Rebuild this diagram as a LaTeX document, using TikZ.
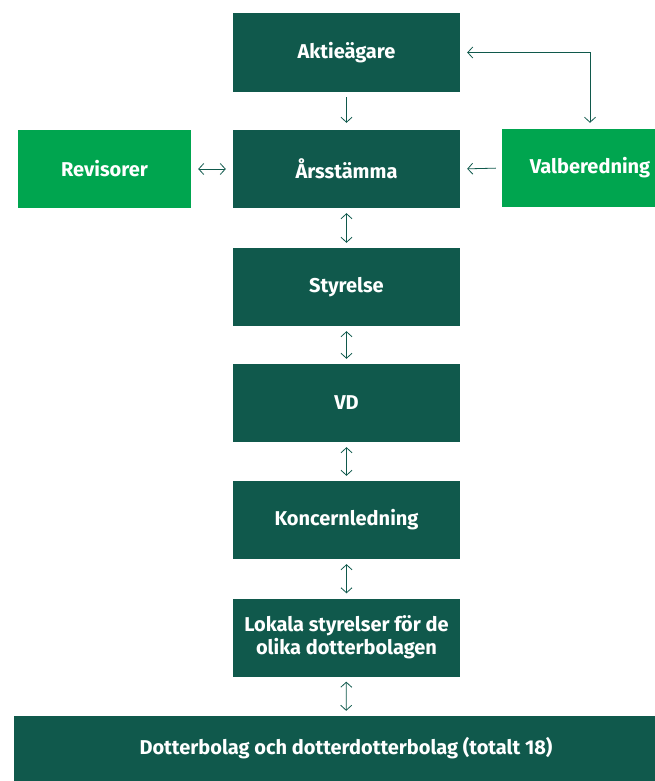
\documentclass[tikz,border=0pt]{standalone}
\usepackage{fontspec}
\setmainfont{Fira Sans}
\usetikzlibrary{arrows.meta}
\definecolor{dgreen}{HTML}{10594C}
\definecolor{lgreen}{HTML}{00A54F}
\tikzset{
  box/.style={fill=dgreen, text=white, font=\bfseries\fontsize{20}{23}\selectfont, align=center, inner sep=0pt},
  mainbox/.style={box, minimum width=227pt, minimum height=78pt},
  sidebox/.style={box, fill=lgreen, minimum height=78pt},
  conn/.style={draw=dgreen, line width=0.8pt, arrows={-Straight Barb[length=5pt,width=11pt]}},
  dconn/.style={draw=dgreen, line width=0.8pt, arrows={Straight Barb[length=5pt,width=11pt]-Straight Barb[length=5pt,width=11pt]}}
}
\begin{document}
\begin{tikzpicture}[x=1pt,y=-1pt]
\useasboundingbox (0,0) rectangle (655,781);
\node[mainbox, minimum height=79pt] (akt) at (346.5,52.5) {Aktieägare};
\node[mainbox] (ars) at (346.5,169) {Årsstämma};
\node[sidebox, minimum width=173pt] (rev) at (104.5,169) {Revisorer};
\node[sidebox, minimum width=176pt] (val) at (590,168) {Valberedning};
\node[mainbox] (sty) at (346.5,287) {Styrelse};
\node[mainbox] (vd) at (346.5,403) {VD};
\node[mainbox] (kon) at (346.5,520) {Koncernledning};
\node[mainbox] (lok) at (346.5,637.5) {Lokala styrelser för de\\olika dotterbolagen};
\node[box, minimum width=664pt, minimum height=65pt] (dot) at (346,748.5) {Dotterbolag och dotterdotterbolag (totalt 18)};
\draw[conn, shorten <=5pt, shorten >=7pt] (akt) -- (ars);
\draw[dconn, shorten <=7pt, shorten >=7pt] (rev) -- (ars);
\draw[conn, shorten <=6pt, shorten >=7pt] (val.west) -- (ars.east);
\draw[dconn, shorten <=7pt, shorten >=6pt] (akt.east) -| (val.north);
\draw[dconn, shorten <=5pt, shorten >=5pt] (ars) -- (sty);
\draw[dconn, shorten <=5pt, shorten >=5pt] (sty) -- (vd);
\draw[dconn, shorten <=5pt, shorten >=5pt] (vd) -- (kon);
\draw[dconn, shorten <=5pt, shorten >=5pt] (kon) -- (lok);
\draw[dconn, shorten <=5pt, shorten >=5pt] (lok) -- (dot);
\end{tikzpicture}
\end{document}
